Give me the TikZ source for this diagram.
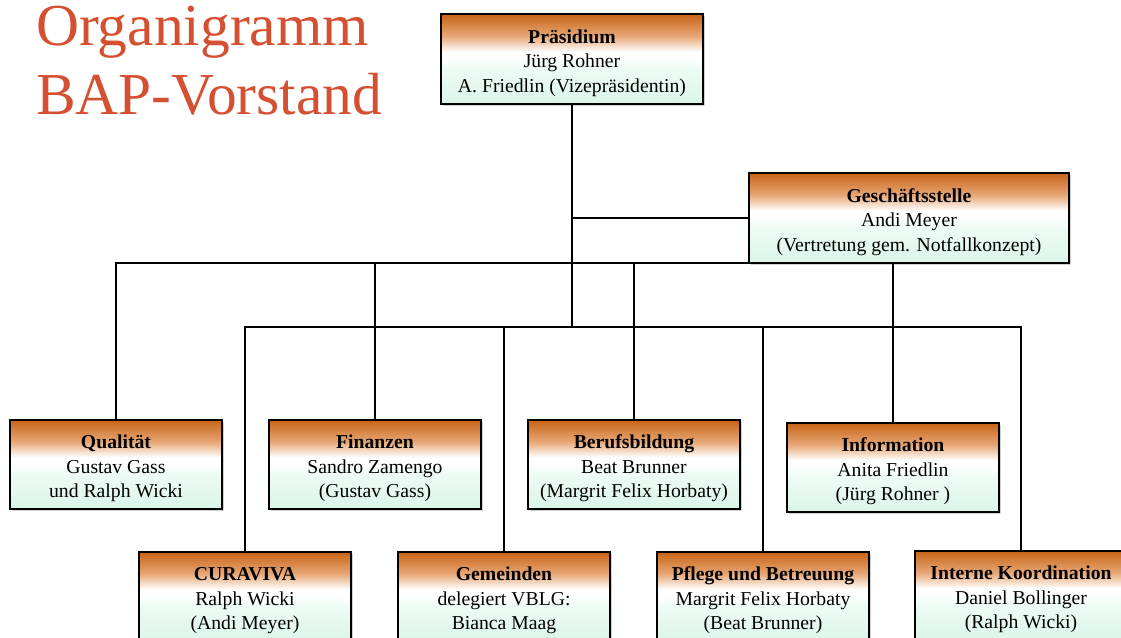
\documentclass[tikz,border=0pt]{standalone}
\usepackage{fontspec}
\setmainfont{Liberation Serif}
\usetikzlibrary{shadows}
\definecolor{boxorange}{RGB}{200,100,22}
\definecolor{boxorangelt}{RGB}{230,165,115}
\definecolor{boxmint}{RGB}{218,245,233}
\definecolor{boxmintlt}{RGB}{238,251,245}
\definecolor{titlered}{RGB}{212,80,48}
\pgfdeclareverticalshading{boxshade}{100bp}{color(0bp)=(boxmint); color(25bp)=(boxmint); color(45bp)=(boxmintlt); color(51bp)=(white); color(54bp)=(white); color(63bp)=(boxorangelt); color(75bp)=(boxorange); color(100bp)=(boxorange)}
\newcommand\boxhead[1]{\rule{0pt}{22pt}\textbf{#1}}
\tikzset{
  orgbox/.style={draw=black, line width=2pt, shading=boxshade, anchor=north west,
    minimum width=212pt, minimum height=89pt, inner sep=0pt, outer sep=0pt,
    align=center, font=\fontsize{19.7}{24.5}\selectfont,
    drop shadow={shadow xshift=1.5pt, shadow yshift=-1.5pt, fill=gray!50, opacity=0.7}},
  conn/.style={draw=black, line width=1.8pt},
  titletext/.style={anchor=base west, text=titlered, font=\fontsize{59.5}{70}\selectfont, inner sep=0pt}
}
\begin{document}
\begin{tikzpicture}[x=1pt,y=-1pt]
\useasboundingbox (0,0) rectangle (1121,637);
\clip (0,0) rectangle (1121,637);
\fill[white] (0,0) rectangle (1121,637);

% title
\node[titletext] (t1) at (36,45) {Organigramm};
\node[titletext] (t2) at (36,114) {BAP-Vorstand};

% boxes
\node[orgbox, minimum width=262pt, minimum height=90pt] (praes) at (441,14)
  {\boxhead{Präsidium}\\Jürg Rohner\\A. Friedlin (Vizepräsidentin)};
\node[orgbox, minimum width=320pt, minimum height=90pt] (gesch) at (749,173)
  {\boxhead{Geschäftsstelle}\\Andi Meyer\\(Vertretung gem. Notfallkonzept)};

\node[orgbox] (qual) at (10,420) {\boxhead{Qualität}\\Gustav Gass\\und Ralph Wicki};
\node[orgbox] (fin) at (269,420) {\boxhead{Finanzen}\\Sandro Zamengo\\(Gustav Gass)};
\node[orgbox] (beruf) at (528,420) {\boxhead{Berufsbildung}\\Beat Brunner\\(Margrit Felix Horbaty)};
\node[orgbox] (info) at (787,423) {\boxhead{Information}\\Anita Friedlin\\(Jürg Rohner )};

\node[orgbox] (cura) at (139,552) {\boxhead{CURAVIVA}\\Ralph Wicki\\(Andi Meyer)};
\node[orgbox] (gem) at (398,552) {\boxhead{Gemeinden}\\delegiert VBLG:\\Bianca Maag};
\node[orgbox] (pfl) at (657,552) {\boxhead{Pflege und Betreuung}\\Margrit Felix Horbaty\\(Beat Brunner)};
\node[orgbox] (intk) at (915,551) {\boxhead{Interne Koordination}\\Daniel Bollinger\\(Ralph Wicki)};

% bus coordinate
\coordinate (lb) at (572,327);

% connectors
\draw[conn] (praes.south) -- (praes.south |- lb);
\draw[conn] (gesch.west) -| (praes.south);
\draw[conn] (qual.north) |- (gesch.south west);
\draw[conn] (fin.north) |- (gesch.south west);
\draw[conn] (beruf.north) |- (gesch.south west);
\draw[conn] (info.north) -- (info.north |- gesch.south);
\draw[conn] (cura.north) |- (lb);
\draw[conn] (gem.north) |- (lb);
\draw[conn] (pfl.north) |- (lb);
\draw[conn] (intk.north) |- (lb);
\end{tikzpicture}
\end{document}
